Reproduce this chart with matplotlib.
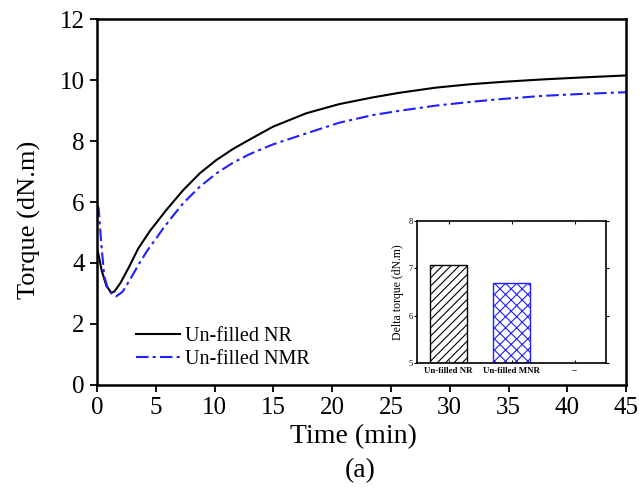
import matplotlib.pyplot as plt

plt.rcParams['font.family'] = 'serif'
plt.rcParams['font.serif'] = ['Liberation Serif', 'DejaVu Serif']
plt.rcParams['hatch.linewidth'] = 0.8

# Torque curves
t_nr = [0.0, 0.1, 0.4, 0.8, 1.2, 1.47, 2.0, 2.74, 3.5, 4.5, 5.9, 7.33, 8.74,
        10.16, 11.57, 12.99, 14.97, 17.8, 20.6, 23.45, 25.7, 28.8, 31.7,
        34.5, 37.9, 41.0, 45.0]
torque_nr = [4.45, 4.33, 3.75, 3.25, 3.03, 3.06, 3.35, 3.88, 4.47, 5.05, 5.74, 6.39, 6.94,
             7.38, 7.74, 8.05, 8.47, 8.91, 9.21, 9.43, 9.58, 9.75, 9.86,
             9.94, 10.02, 10.08, 10.15]

t_nmr = [0.0, 0.14, 0.35, 0.62, 0.9, 1.19, 1.61, 2.18, 2.8, 3.6, 4.3, 5.06, 5.57,
         6.2, 7.33, 8.74, 10.16, 11.57, 12.99, 14.97, 17.8, 20.6, 23.45, 25.7,
         28.8, 31.7, 34.5, 37.9, 41.0, 45.0]
torque_nmr = [5.9, 5.8, 4.7, 3.55, 3.2, 3.02, 2.9, 3.06, 3.45, 3.99, 4.42, 4.82, 5.1,
              5.42, 5.96, 6.5, 6.94, 7.29, 7.57, 7.89, 8.25, 8.6, 8.85, 8.99,
              9.16, 9.28, 9.38, 9.48, 9.54, 9.6]

# Inset bars
samples = ['Un-filled NR', 'Un-filled MNR', '--']
delta_torque = [7.08, 6.68]

fig = plt.figure(figsize=(6.39, 4.88), dpi=100)
ax = fig.add_axes([0.1518, 0.2111, 0.828, 0.7499])

ax.plot(t_nr, torque_nr, color='black', lw=1.5, label='Un-filled NR')
ax.plot(t_nmr, torque_nmr, color='#1f1fff', lw=1.5, ls=(0, (6, 2, 1.5, 2)),
        label='Un-filled NMR')

ax.set_xlim(0, 45)
ax.set_ylim(0, 12)
ax.set_xticks(range(0, 46, 5))
ax.set_yticks(range(0, 13, 2))
ax.tick_params(labelsize=18, direction='out', length=5, width=1.3,
               top=False, right=False, pad=4)
for s in ax.spines.values():
    s.set_linewidth(1.8)
ax.set_xlabel('Time (min)', fontsize=20)
ax.set_ylabel('Torque (dN.m)', fontsize=19)
ax.xaxis.set_label_coords(0.485, -0.108)
ax.yaxis.set_label_coords(-0.106, 0.45)

ax.legend(loc='lower left', bbox_to_anchor=(0.058, 0.022), frameon=False,
          fontsize=14.5, handlelength=2.2, handletextpad=0.25, labelspacing=0.2,
          borderaxespad=0)

fig.text(0.563, 0.035, '(a)', ha='center', va='center', fontsize=20)

# Inset
ins = fig.add_axes([0.6526, 0.2561, 0.2958, 0.291])
xs = [1, 2]
ins.bar(xs[0], delta_torque[0] - 5, bottom=5, width=0.6, fill=False,
        edgecolor='black', hatch='////', lw=1.0)
ins.bar(xs[1], delta_torque[1] - 5, bottom=5, width=0.6, fill=False,
        edgecolor='#1f1fff', hatch='xxx', lw=1.0)
ins.set_xlim(0.5, 3.5)
ins.set_ylim(5, 8)
ins.set_xticks([1, 2, 3])
ins.set_xticklabels(samples, fontsize=6.4, fontweight='bold')
ins.set_yticks([5, 6, 7, 8])
ins.tick_params(axis='y', labelsize=6, direction='out', length=2, width=0.8, pad=1)
ins.tick_params(axis='x', direction='in', length=2, width=0.8, top=True, pad=3)
ins.tick_params(axis='y', which='both', right=True)
ins.set_ylabel('Delta torque (dN.m)', fontsize=8.5, labelpad=3)
for s in ins.spines.values():
    s.set_linewidth(1.2)

fig.savefig('out.png', dpi=100)
